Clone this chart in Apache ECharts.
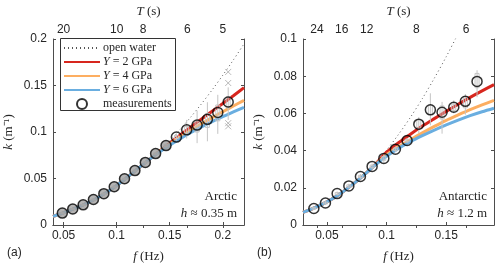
<!DOCTYPE html>
<html><head><meta charset="utf-8">
<script src="https://cdn.jsdelivr.net/npm/echarts@6/dist/echarts.min.js"></script>
<style>html,body{margin:0;padding:0;background:#fff}#c{width:500px;height:268px}</style>
</head><body><div id="c"></div>
<script>
// ---------- data ----------
const fArc = [0.0488,0.0586,0.0684,0.0781,0.0879,0.0977,0.1074,0.1172,0.1270,0.1367,0.1465,0.1563,0.1660,0.1758,0.1855,0.1953,0.2051];
const kArc = [0.0128,0.0172,0.0217,0.0274,0.0337,0.0411,0.0497,0.0585,0.0673,0.0768,0.0854,0.0945,0.1023,0.1074,0.1136,0.1211,0.1323];
// whiskers: [low, q1, q3, high]
const boxArc = [[0.0115,0.0123,0.0133,0.0140],[0.0160,0.0167,0.0177,0.0184],[0.0205,0.0212,0.0222,0.0229],[0.0262,0.0269,0.0279,0.0286],
  [0.0325,0.0332,0.0342,0.0349],[0.0398,0.0405,0.0417,0.0424],[0.0483,0.0491,0.0503,0.0511],[0.0570,0.0579,0.0591,0.0600],
  [0.0655,0.0666,0.0680,0.0690],[0.0748,0.0760,0.0776,0.0788],[0.0830,0.0845,0.0865,0.0880],[0.0900,0.0930,0.0960,0.0985],
  [0.0930,0.0985,0.1060,0.1130],[0.0880,0.1000,0.1120,0.1230],[0.0900,0.1050,0.1200,0.1320],[0.0980,0.1120,0.1290,0.1400],[0.1130,0.1260,0.1380,0.1480]];
const outArc = [[0.2051,0.1646],[0.2051,0.1527],[0.2051,0.1095],[0.2051,0.1061]];

const fModA = [0.04,0.05,0.06,0.07,0.08,0.09,0.10,0.11,0.12,0.13,0.14,0.15,0.16,0.17,0.18,0.19,0.20,0.21,0.22];
const kOwA  = [0.0093,0.0132,0.0176,0.0224,0.0280,0.0346,0.0425,0.0513,0.0606,0.0698,0.0790,0.0905,0.1030,0.1163,0.1304,0.1453,0.1610,0.1775,0.1948];
const kY2A  = [0.0093,0.0132,0.0176,0.0224,0.0280,0.0346,0.0425,0.0513,0.0606,0.0698,0.0790,0.0880,0.0968,0.1055,0.1140,0.1224,0.1306,0.1390,0.1477];
const kY4A  = [0.0093,0.0132,0.0176,0.0224,0.0280,0.0346,0.0425,0.0513,0.0606,0.0698,0.0787,0.0868,0.0945,0.1018,0.1088,0.1155,0.1218,0.1280,0.1340];
const kY6A  = [0.0093,0.0132,0.0176,0.0224,0.0280,0.0346,0.0425,0.0513,0.0606,0.0698,0.0782,0.0858,0.0928,0.0994,0.1055,0.1112,0.1165,0.1216,0.1265];

const fAnt = [0.0391,0.0488,0.0586,0.0684,0.0781,0.0879,0.0977,0.1074,0.1172,0.1270,0.1367,0.1465,0.1563,0.1660,0.1758];
const kAnt = [0.0089,0.0118,0.0169,0.0210,0.0261,0.0315,0.0358,0.0407,0.0454,0.0542,0.0619,0.0606,0.0633,0.0665,0.0772];
const boxAnt = [[0.0080,0.0085,0.0093,0.0098],[0.0108,0.0113,0.0123,0.0128],[0.0158,0.0164,0.0174,0.0180],[0.0198,0.0204,0.0216,0.0222],
  [0.0248,0.0255,0.0267,0.0274],[0.0300,0.0308,0.0322,0.0330],[0.0335,0.0348,0.0368,0.0380],[0.0392,0.0400,0.0414,0.0422],
  [0.0440,0.0447,0.0461,0.0468],[0.0492,0.0520,0.0565,0.0580],[0.0536,0.0593,0.0644,0.0708],[0.0491,0.0570,0.0640,0.0662],
  [0.0600,0.0615,0.0650,0.0670],[0.0593,0.0630,0.0690,0.0704],[0.0687,0.0738,0.0815,0.0832]];

const fModB = [0.03,0.04,0.05,0.06,0.07,0.08,0.09,0.10,0.11,0.12,0.13,0.14,0.15,0.16,0.17,0.18,0.19];
const kOwB  = [0.0068,0.0093,0.0124,0.0163,0.0210,0.0263,0.0326,0.0402,0.0487,0.0579,0.0680,0.0789,0.0905,0.1030,0.1163,0.1304,0.1453];
const kY2B  = [0.0068,0.0093,0.0124,0.0163,0.0210,0.0263,0.0322,0.0392,0.0442,0.0488,0.0532,0.0572,0.0611,0.0649,0.0686,0.0721,0.0755];
const kY4B  = [0.0068,0.0093,0.0124,0.0163,0.0210,0.0263,0.0321,0.0378,0.0420,0.0458,0.0495,0.0530,0.0563,0.0592,0.0620,0.0646,0.0670];
const kY6B  = [0.0068,0.0093,0.0124,0.0163,0.0210,0.0263,0.0320,0.0370,0.0412,0.0448,0.0480,0.0510,0.0538,0.0564,0.0588,0.0609,0.0628];

const tTicksA = [20,10,8,6,5];
const tTicksB = [24,16,12,8,6];
const greyFilledArc = 11; // first n Arctic circles look grey-filled

// ---------- helpers ----------
const zip = (xs, ys) => xs.map((x, i) => [x, ys[i]]);
const AX = '#4d4d4d', TXT = '#262626';
const RED = '#d7261e', ORG = '#fdae61', BLU = '#6aaee0';
const serif = 'Liberation Serif';

function axesFor(gi, xmin, xmax, ymin, ymax, yint, tTicks) {
  const common = {gridIndex: gi, min: xmin, max: xmax, type: 'value', splitLine: {show: false},
    axisLine: {show: true, lineStyle: {color: AX, width: 1}}};
  const xs = [
    Object.assign({}, common, {position: 'bottom',
      name: '{i|f} (Hz)', nameLocation: 'middle', nameGap: 25,
      nameTextStyle: {fontFamily: serif, fontSize: 13, color: TXT, rich: {i: {fontStyle: 'italic', fontFamily: serif, fontSize: 13}}},
      axisTick: {inside: true, length: 3, lineStyle: {color: AX}, customValues: [0.05, 0.1, 0.15, 0.2].filter(v => v <= xmax)},
      axisLabel: {margin: 5, fontFamily: 'Liberation Sans', fontSize: 12, color: TXT, customValues: [0.05, 0.1, 0.15, 0.2].filter(v => v <= xmax), formatter: v => String(+v.toFixed(2))}}),
    Object.assign({}, common, {position: 'top',
      name: '{i|T} (s)', nameLocation: 'middle', nameGap: 21,
      nameTextStyle: {fontFamily: serif, fontSize: 13, color: TXT, rich: {i: {fontStyle: 'italic', fontFamily: serif, fontSize: 13}}},
      axisTick: {inside: true, length: 3, lineStyle: {color: AX}, customValues: tTicks.map(t => 1 / t)},
      axisLabel: {margin: 3, fontFamily: 'Liberation Sans', fontSize: 12, color: TXT, customValues: tTicks.map(t => 1 / t), formatter: v => String(Math.round(1 / v))}})
  ];
  const ys = [
    {gridIndex: gi, type: 'value', min: ymin, max: ymax, interval: yint, position: 'left', splitLine: {show: false},
      name: '{i|k} (m⁻¹)', nameLocation: 'middle', nameGap: 38,
      nameTextStyle: {fontFamily: serif, fontSize: 13, color: TXT, rich: {i: {fontStyle: 'italic', fontFamily: serif, fontSize: 13}}},
      axisLine: {show: true, lineStyle: {color: AX}}, axisTick: {show: true, inside: true, length: 3, lineStyle: {color: AX}},
      axisLabel: {margin: 6, fontFamily: 'Liberation Sans', fontSize: 12, color: TXT, formatter: v => String(+v.toFixed(3))}},
    {gridIndex: gi, type: 'value', min: ymin, max: ymax, interval: yint, position: 'right', splitLine: {show: false},
      axisLine: {show: true, lineStyle: {color: AX}}, axisTick: {show: true, inside: true, length: 3, lineStyle: {color: AX}},
      axisLabel: {show: false}}
  ];
  return {xs, ys};
}

const A = axesFor(0, 0.04, 0.22, 0, 0.2, 0.05, tTicksA);
const B = axesFor(1, 0.03, 0.19, 0, 0.1, 0.02, tTicksB);

function boxSeries(xi, yi, fs, boxes) {
  return {type: 'custom', xAxisIndex: xi, yAxisIndex: yi, silent: true, z: 3, clip: true,
    data: fs.map((f, i) => [f].concat(boxes[i])),
    renderItem: (params, api) => {
      const x = api.value(0);
      const pLo = api.coord([x, api.value(1)]), pQ1 = api.coord([x, api.value(2)]);
      const pQ3 = api.coord([x, api.value(3)]), pHi = api.coord([x, api.value(4)]);
      const st = {stroke: '#c4c4c4', lineWidth: 1, fill: null};
      return {type: 'group', children: [
        {type: 'line', shape: {x1: pLo[0], y1: pLo[1], x2: pHi[0], y2: pHi[1]}, style: st},
        {type: 'rect', shape: {x: pQ3[0] - 2, y: pQ3[1], width: 4, height: pQ1[1] - pQ3[1]}, style: st}
      ]};
    }};
}
function lineSeries(name, xi, yi, xs, ys, color, width, dotted, z) {
  return {name, type: 'line', xAxisIndex: xi, yAxisIndex: yi, data: zip(xs, ys), smooth: 0.3, symbol: 'none', z: z, clip: true,
    lineStyle: {color, width, type: dotted ? [1, 3] : 'solid'}, itemStyle: {color}};
}
function measSeries(xi, yi, fs, ks, nGrey) {
  return {name: 'measurements', type: 'scatter', xAxisIndex: xi, yAxisIndex: yi, z: 5, symbol: 'circle', symbolSize: 10,
    itemStyle: {color: 'rgba(255,255,255,0)', borderColor: '#000', borderWidth: 1.5},
    data: fs.map((f, i) => i < nGrey ? {value: [f, ks[i]], itemStyle: {color: '#a0a0a0'}} : {value: [f, ks[i]]})};
}

const series = [
  lineSeries('open water', 0, 0, fModA, kOwA, '#555', 1, true, 1),
  lineSeries('Y2', 0, 0, fModA, kY2A, RED, 3, false, 2),
  lineSeries('Y4', 0, 0, fModA, kY4A, ORG, 3, false, 2),
  lineSeries('Y6', 0, 0, fModA, kY6A, BLU, 3, false, 2),
  boxSeries(0, 0, fArc, boxArc),
  {type: 'scatter', xAxisIndex: 0, yAxisIndex: 0, z: 3, silent: true, data: outArc, symbol: 'path://M0,0L10,10M10,0L0,10', symbolSize: 6,
    itemStyle: {color: 'none', borderColor: '#a8a8a8', borderWidth: 1}},
  measSeries(0, 0, fArc, kArc, greyFilledArc),
  lineSeries('open water', 2, 2, fModB, kOwB, '#555', 1, true, 1),
  lineSeries('Y2', 2, 2, fModB, kY2B, RED, 3, false, 2),
  lineSeries('Y4', 2, 2, fModB, kY4B, ORG, 3, false, 2),
  lineSeries('Y6', 2, 2, fModB, kY6B, BLU, 3, false, 2),
  boxSeries(2, 2, fAnt, boxAnt),
  measSeries(2, 2, fAnt, kAnt, 0)
];

const labelMap = {'open water': 'open water', Y2: '{i|Y} = 2 GPa', Y4: '{i|Y} = 4 GPa', Y6: '{i|Y} = 6 GPa', measurements: 'measurements'};
const noSym = {opacity: 0};

const chart = echarts.init(document.getElementById('c'), null, {renderer: 'canvas'});
chart.setOption({
  animation: false,
  grid: [{left: 53, top: 32, width: 191, height: 196}, {left: 303, top: 32, width: 191, height: 196}],
  xAxis: [A.xs[0], A.xs[1], B.xs[0], B.xs[1]].map((a, i) => Object.assign(a, {gridIndex: i < 2 ? 0 : 1})),
  yAxis: [A.ys[0], A.ys[1], B.ys[0], B.ys[1]].map((a, i) => Object.assign(a, {gridIndex: i < 2 ? 0 : 1})),
  legend: {data: [
      {name: 'open water', itemStyle: noSym},
      {name: 'Y2', itemStyle: noSym},
      {name: 'Y4', itemStyle: noSym},
      {name: 'Y6', itemStyle: noSym},
      {name: 'measurements'}],
    orient: 'vertical', left: 60, top: 41,
    itemWidth: 36, itemHeight: 10, itemGap: 0, padding: [0, 4, 0, 3], borderWidth: 0,
    selectedMode: false, z: 10,
    formatter: n => labelMap[n],
    textStyle: {fontFamily: serif, fontSize: 12, lineHeight: 14, color: TXT, padding: [0, 0, 0, -2],
      rich: {i: {fontStyle: 'italic', fontFamily: serif, fontSize: 12, lineHeight: 14, color: TXT}}}},
  graphic: [
    {type: 'rect', z: 8, shape: {x: 60.5, y: 38.5, width: 115, height: 72}, style: {fill: '#fff', stroke: '#333', lineWidth: 1}},
    {type: 'text', right: 500 - 237, top: 190, style: {text: 'Arctic', font: '13px "Liberation Serif"', fill: TXT, textAlign: 'right'}},
    {type: 'text', right: 500 - 237, top: 207, style: {text: '{i|h} ≈ 0.35 m', font: '13px "Liberation Serif"', fill: TXT,
      rich: {i: {fontStyle: 'italic', fontFamily: serif, fontSize: 13}}}},
    {type: 'text', right: 500 - 487, top: 190, style: {text: 'Antarctic', font: '13px "Liberation Serif"', fill: TXT}},
    {type: 'text', right: 500 - 487, top: 207, style: {text: '{i|h} ≈ 1.2 m', font: '13px "Liberation Serif"', fill: TXT,
      rich: {i: {fontStyle: 'italic', fontFamily: serif, fontSize: 13}}}},
    {type: 'text', left: 7, top: 247, style: {text: '(a)', font: '12px "Liberation Sans"', fill: TXT}},
    {type: 'text', left: 257, top: 247, style: {text: '(b)', font: '12px "Liberation Sans"', fill: TXT}}
  ],
  series
});
</script></body></html>
